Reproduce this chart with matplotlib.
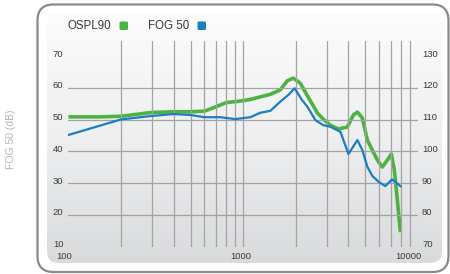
import numpy as np
import matplotlib
matplotlib.use("Agg")
import matplotlib.pyplot as plt
from matplotlib.patches import FancyBboxPatch
from matplotlib.colors import LinearSegmentedColormap

plt.rcParams['font.family'] = ['Liberation Sans', 'DejaVu Sans']

# --------------------------
# data
# --------------------------
ospl_freq = [100, 150, 200, 300, 400, 500, 600, 670, 800, 1000, 1100, 1250, 1430,
             1630, 1790, 1935, 2120, 2360, 2660, 2870, 3150, 3500, 3940, 4270,
             4500, 4800, 5130, 5480, 5860, 6250, 6680, 7040, 7320, 7620, 7930]
ospl_db = [110.9, 110.9, 111.1, 112.3, 112.5, 112.5, 112.7, 113.7, 115.4, 116.0,
           116.4, 117.2, 118.0, 119.4, 122.3, 123.1, 121.5, 117.0, 112.1, 110.2,
           108.3, 107.1, 107.7, 111.5, 112.4, 110.6, 103.6, 100.4, 97.3, 95.1,
           97.3, 99.2, 94.2, 84.7, 74.6]

fog_freq = [100, 200, 300, 400, 500, 600, 740, 900, 1100, 1250, 1430, 1630, 1810,
            1970, 2170, 2330, 2585, 2870, 3150, 3600, 4000, 4500, 4800, 5130,
            5480, 5940, 6500, 7100, 7620, 7930]
fog_db = [45.2, 50.1, 51.2, 51.8, 51.5, 50.8, 50.8, 50.2, 50.8, 52.2, 52.8, 55.7,
          57.8, 59.9, 56.2, 54.1, 49.9, 48.3, 47.8, 46.2, 39.2, 43.6, 40.5, 35.2,
          32.3, 30.5, 29.1, 31.2, 29.9, 29.1]

left_ticks = [10, 20, 30, 40, 50, 60, 70]
right_ticks = [70, 80, 90, 100, 110, 120, 130]
grid_y = [20, 30, 40, 50, 60]
grid_x = [200, 300, 400, 500, 600, 700, 800, 900, 1000,
          2000, 3000, 4000, 5000, 6000, 7000, 8000, 9000]
x_labels = ['100', '1000', '10000']
x_label_pos = [100, 1000, 10000]

green = '#4db340'
blue = '#1b7dc4'
grid_col = '#a3a3a3'
text_col = '#3a3a3a'

# --------------------------
# background frame (pixel coordinates)
# --------------------------
fig = plt.figure(figsize=(4.5, 2.74), dpi=100)
bg = fig.add_axes([0, 0, 1, 1])
bg.axis('off')

outer = FancyBboxPatch((37.5, 4.5), 411, 267.5, boxstyle='round,pad=0,rounding_size=16',
                       fc='white', ec='#8a8a8a', lw=1.6, zorder=1)
bg.add_patch(outer)
inner = FancyBboxPatch((47, 13), 395, 250, boxstyle='round,pad=0,rounding_size=12',
                       fc='none', ec='none', zorder=2)
bg.add_patch(inner)
cmap = LinearSegmentedColormap.from_list('panel', ['#fcfcfc', '#eeeff0', '#d8dadc'])
grad = np.linspace(0, 1, 256).reshape(-1, 1)
im = bg.imshow(grad, extent=(47, 442, 263, 13), cmap=cmap, aspect='auto', zorder=2)
im.set_clip_path(inner)
bg.set_xlim(0, 450)
bg.set_ylim(274, 0)

# legend
bg.text(68, 26, 'OSPL90', fontsize=8.3, color=text_col, va='center', ha='left', zorder=3)
bg.add_patch(FancyBboxPatch((119.5, 21.5), 8.5, 8.5, boxstyle='round,pad=0,rounding_size=1.5',
                            fc=green, ec='none', zorder=3))
bg.text(148, 26, 'FOG 50', fontsize=8.3, color=text_col, va='center', ha='left', zorder=3)
bg.add_patch(FancyBboxPatch((197.5, 21.5), 8.5, 8.5, boxstyle='round,pad=0,rounding_size=1.5',
                            fc=blue, ec='none', zorder=3))

# side label
bg.text(11, 139, 'FOG 50 (dB)', rotation=90, fontsize=7.5, color='#b4b4b4',
        ha='center', va='center')

# --------------------------
# main chart
# --------------------------
ax = fig.add_axes([68.4 / 450, 27.25 / 274, 349.6 / 450, 205.75 / 274])
ax.patch.set_alpha(0)
ax.set_xscale('log')
ax.set_xlim(100, 10000)
ax.set_ylim(10, 74.8)
for s in ax.spines.values():
    s.set_visible(False)
ax.set_xticks([])
ax.set_yticks([])
ax.minorticks_off()

for gy in grid_y:
    ax.axhline(gy, color=grid_col, lw=0.9, zorder=1)
for gx in grid_x:
    ax.axvline(gx, color=grid_col, lw=0.9, zorder=1)

ax2 = ax.twinx()
ax2.set_ylim(70, 134.8)
for s in ax2.spines.values():
    s.set_visible(False)
ax2.set_yticks([])

ax2.plot(ospl_freq, ospl_db, color=green, lw=2.6, solid_capstyle='butt', zorder=3)
ax.plot(fog_freq, fog_db, color=blue, lw=1.6, zorder=4)
ax.set_zorder(2)
ax2.set_zorder(1)

# tick labels
for v in left_ticks:
    ax.annotate(str(v), (0, v), xycoords=('axes fraction', 'data'), xytext=(-5, 2),
                textcoords='offset pixels', ha='right', va='center', fontsize=6.8, color=text_col)
for v in right_ticks:
    ax2.annotate(str(v), (1, v), xycoords=('axes fraction', 'data'), xytext=(4, 2),
                 textcoords='offset pixels', ha='left', va='center', fontsize=6.8, color=text_col)
x_shift = [-4, -2, -10]
for lab, pos, dx in zip(x_labels, x_label_pos, x_shift):
    ax.annotate(lab, (pos, 0), xycoords=('data', 'axes fraction'), xytext=(dx, -9.5),
                textcoords='offset pixels', ha='center', va='center', fontsize=6.8, color=text_col)

fig.savefig('out.png', dpi=100)
